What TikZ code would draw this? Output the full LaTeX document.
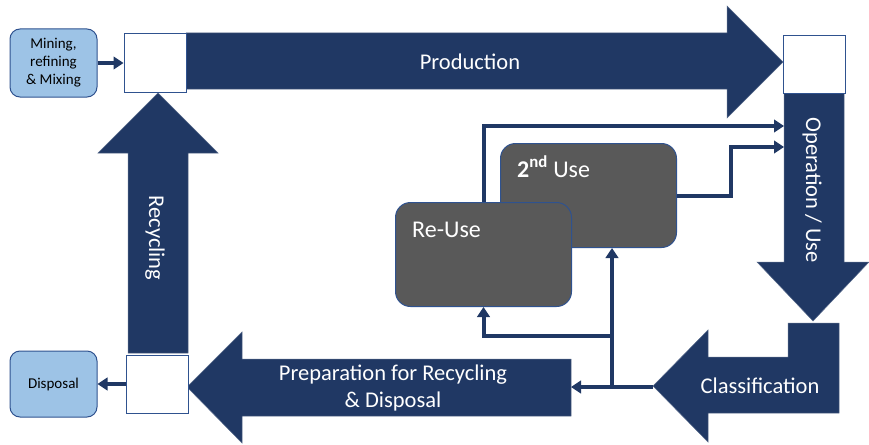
\documentclass[tikz,border=0pt]{standalone}
\usepackage{fontspec}
\setmainfont{Carlito}
\usetikzlibrary{arrows.meta}
\definecolor{navy}{HTML}{203864}
\definecolor{edge}{HTML}{2F528F}
\definecolor{lblue}{HTML}{9DC3E6}
\definecolor{dgray}{HTML}{595959}
\begin{document}
\begin{tikzpicture}[x=1pt,y=-1pt,
  bigarrow/.style={fill=navy, draw=navy!75!white, line width=0.5pt},
  sq/.style={draw=edge, fill=white, line width=1pt, minimum width=62pt, minimum height=58pt, inner sep=0pt},
  srcbox/.style={draw=edge, fill=lblue, line width=1pt, rounded corners=10pt, inner sep=0pt, align=center, minimum width=87pt, font=\fontsize{15}{18}\selectfont},
  usebox/.style={draw=edge, fill=dgray, line width=1pt, rounded corners=15pt, minimum width=176pt, minimum height=104pt, inner sep=0pt, anchor=north west},
  lbl/.style={text=white, font=\fontsize{22.5}{27}\selectfont, inner sep=0pt, align=center},
  uselbl/.style={text=white, font=\fontsize{24}{28}\selectfont, inner sep=0pt, anchor=base west},
  conn/.style={draw=navy, line width=4pt, -{Triangle[length=10pt,width=12.5pt]}},
]
\useasboundingbox (0,0) rectangle (869,444);

% big arrows
\path[bigarrow] (186,33) -- (727,33) -- (727,6) -- (783,62) -- (727,118) -- (727,89) -- (186,89) -- cycle;
\node[lbl] (prodlbl) at (470,62) {Production};

\path[bigarrow] (784,93) -- (844,93) -- (844,262) -- (869,262) -- (813,321) -- (757,262) -- (784,262) -- cycle;
\node[lbl, rotate=-90] (oplbl) at (812,190) {Operation / Use};

\path[bigarrow] (839,323) -- (839,413) -- (708,413) -- (708,442) -- (653,386) -- (708,330) -- (708,357) -- (788,357) -- (788,323) -- cycle;
\node[lbl] (clslbl) at (760,386) {Classification};

\path[bigarrow] (571,359) -- (571,416) -- (242,416) -- (242,443) -- (187,387) -- (242,332) -- (242,359) -- cycle;
\node[lbl] (preplbl) at (393,388) {Preparation for Recycling\\\& Disposal};

\path[bigarrow] (128,353) -- (128,153) -- (98,153) -- (158,93) -- (218,153) -- (188,153) -- (188,353) -- cycle;
\node[lbl, rotate=-90] (reclbl) at (155,238) {Recycling};

% squares
\node[sq] (sqTL) at (155,63) {};
\node[sq] (sqTR) at (814,64.5) {};
\node[sq] (sqBL) at (157,384) {};

% source / sink boxes
\node[srcbox, minimum height=68pt] (mining) at (53.5,63) {Mining,\\refining\\\& Mixing};
\node[srcbox, minimum height=66pt] (disposal) at (53.5,384) {Disposal};

% use boxes
\node[usebox] (second) at (500,143) {};
\node[uselbl] (secondlbl) at (517,177) {\textbf{2\textsuperscript{nd}} Use};
\node[usebox] (reuse) at (395,202) {};
\node[uselbl] (reuselbl) at (412,237) {Re-Use};

% named coordinates
\coordinate (opA) at (784,126);
\coordinate (opB) at (784,147);
\coordinate (clsTip) at (653,387);
\coordinate (prepR) at (571,387);
\coordinate (j1) at (612,387);
\coordinate (j2) at (612,336);

% connectors
\draw[conn] (mining) -- (sqTL);
\draw[conn] (sqBL) -- (disposal);
\draw[conn] (reuse.north) |- (opA);
\draw[conn] (second.east) -- ++(54,0) |- (opB);
\draw[conn] (clsTip) -- (prepR);
\draw[conn] (j1) -- (j1 |- second.south);
\draw[conn] (j2) -| (reuse.south);
\end{tikzpicture}
\end{document}
